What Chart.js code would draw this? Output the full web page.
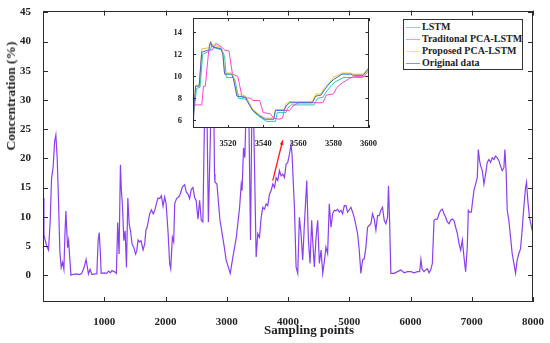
<!DOCTYPE html>
<html lang="en">
<head>
<meta charset="UTF-8">
<title>Concentration prediction</title>
<script src="https://cdn.jsdelivr.net/npm/chart.js"></script>
<style>
  body {
    margin: 0;
    background: #fff;
    font-family: 'Liberation Serif', 'Times New Roman', serif;
    color: #222;
  }
  .wrap {
    position: relative;
    width: 550px;
    height: 343px;
    overflow: hidden;
  }
  #mainChart { position: absolute; left: 0; top: 0; }
  #insetChart { position: absolute; left: 160px; top: 10px; }
  .ytitle {
    position: absolute;
    left: 10.5px;
    top: 96px;
    transform: translate(-50%, -50%) rotate(-90deg);
    font-weight: bold;
    font-size: 13.5px;
    white-space: nowrap;
  }
  .xtitle {
    position: absolute;
    left: 309px;
    top: 330px;
    transform: translate(-50%, -50%);
    font-weight: bold;
    font-size: 13px;
    white-space: nowrap;
  }
  .legend {
    position: absolute;
    left: 403px;
    top: 19px;
    width: 118px;
    height: 48px;
    border: 1px solid #333;
    background: #fff;
    padding-top: 1px;
  }
  .legend div {
    height: 12px;
    line-height: 12px;
    font-size: 10px;
    font-weight: bold;
    white-space: nowrap;
  }
  .legend span {
    display: inline-block;
    width: 14px;
    height: 0;
    border-top: 1px solid;
    vertical-align: middle;
    margin: 0 2px 0 2px;
  }
</style>
</head>
<body>
<div class="wrap">
  <canvas id="mainChart" width="550" height="343"></canvas>
  <canvas id="insetChart" width="220" height="140"></canvas>
  <div class="ytitle">Concentration (%)</div>
  <div class="xtitle">Sampling points</div>
  <div class="legend">
    <div><span style="color:#7fdcc6"></span>LSTM</div>
    <div><span style="color:#ff8fdc"></span>Traditonal PCA-LSTM</div>
    <div><span style="color:#ffe07a"></span>Proposed PCA-LSTM</div>
    <div><span style="color:#8c8cff"></span>Original data</div>
  </div>
</div>

<script>
// main plot: sampling point and concentration
const mainX = [0,15,30,60,90,115,140,165,190,210,232,255,275,297,320,341,358,374,388,401,418,440,456,480,550,600,632,670,703,725,742,769,800,850,879,900,918,935,950,1000,1040,1071,1100,1126,1160,1181,1198,1220,1242,1264,1280,1297,1320,1341,1363,1385,1407,1429,1455,1484,1511,1530,1552,1575,1600,1634,1661,1680,1700,1742,1770,1800,1824,1850,1878,1905,1933,1960,1987,2010,2041,2068,2085,2112,2134,2150,2180,2204,2231,2258,2275,2313,2340,2367,2394,2421,2448,2476,2500,2530,2557,2584,2610,2660,2700,2775,2800,2808,2840,2862,2889,2916,2960,2990,3057,3100,3154,3209,3236,3250,3274,3295,3345,3388,3420,3480,3507,3535,3562,3589,3616,3643,3670,3698,3725,3752,3780,3806,3833,3860,3888,3915,3942,3969,3996,4023,4050,4066,4105,4132,4159,4186,4213,4240,4268,4306,4333,4360,4387,4403,4430,4458,4485,4512,4540,4567,4593,4620,4647,4674,4702,4729,4756,4783,4810,4837,4864,4891,4919,4946,4973,5000,5027,5055,5082,5109,5136,5163,5190,5217,5245,5272,5299,5326,5353,5380,5408,5435,5462,5489,5516,5543,5571,5598,5625,5641,5660,5679,5733,5788,5842,5896,5950,6005,6059,6113,6150,6170,6190,6221,6248,6276,6303,6330,6357,6384,6411,6439,6466,6493,6520,6547,6574,6601,6629,6656,6683,6710,6737,6765,6792,6819,6846,6873,6900,6927,6944,6966,6993,7009,7036,7063,7090,7107,7128,7145,7172,7199,7226,7253,7280,7307,7335,7362,7389,7416,7443,7470,7498,7525,7541,7563,7579,7606,7633,7660,7688,7715,7742,7769,7796,7823,7850,7878,7894,7915,7942,7964,7986,8000];
const mainY = [13.2,7.0,6.2,5.0,4.3,8.7,16.6,18.4,22.9,24.0,20.0,12.1,4.1,1.3,2.2,1.0,7.0,11.0,7.6,4.7,5.9,2.4,0.0,0.1,0.2,0.1,0.3,1.3,2.7,1.3,0.2,1.0,0.1,0.2,0.2,5.9,7.3,4.1,0.3,0.4,0.3,0.7,0.4,0.8,0.6,0.5,0.3,9.0,3.6,18.9,14.4,12.1,5.9,7.6,1.3,13.2,8.7,7.6,5.3,4.7,3.6,4.1,6.0,5.7,5.9,4.3,5.4,7.7,8.2,10.5,11.2,10.5,11.0,12.2,13.2,13.1,13.6,11.8,13.4,12.2,7.5,2.0,1.1,6.5,5.7,12.2,13.1,13.3,13.6,14.5,15.1,15.5,14.2,13.9,13.1,14.7,15.0,13.3,12.8,9.6,12.8,9.4,9.1,42.0,9.1,43.0,17.3,15.9,15.6,12.8,9.4,7.7,4.8,2.6,0.3,3.1,6.3,11.5,15.5,14.5,21.8,20.1,40.0,6.0,38.0,3.1,7.1,6.5,9.9,11.6,11.3,12.2,11.9,13.9,14.5,15.6,15.0,16.7,16.2,17.9,17.0,17.3,16.7,19.0,19.3,20.7,22.4,20.7,11.6,1.4,0.3,9.9,7.1,2.6,8.8,16.2,6.0,2.0,9.4,6.0,1.4,6.5,9.4,2.0,4.3,0.3,2.3,4.8,3.7,12.2,8.2,10.5,11.1,11.0,11.3,10.8,11.1,10.5,11.9,11.9,10.8,11.2,11.6,10.8,9.9,8.5,7.1,4.3,0.3,2.6,2.8,4.8,8.2,8.5,8.8,10.5,9.6,7.7,10.2,10.2,11.1,11.6,9.4,8.8,9.9,15.3,8.8,0.3,0.3,0.6,0.9,0.4,0.6,0.6,0.4,0.6,0.6,2.7,1.0,0.6,0.9,1.1,0.4,0.9,2.0,9.4,9.6,9.6,10.5,11.1,11.3,10.5,9.9,9.1,8.8,9.4,9.6,9.4,8.2,7.1,5.4,4.3,6.0,3.1,0.6,4.8,11.1,10.8,10.8,12.2,14.5,15.6,16.7,21.5,19.6,18.7,17.9,15.6,17.3,19.3,19.8,19.3,20.1,19.8,20.4,20.1,19.6,18.7,17.9,18.4,21.5,17.3,11.1,9.4,6.5,3.7,2.0,0.3,2.6,3.7,4.5,7.7,11.6,15.0,15.9,12.8,9.9,8.8,7.7,7.6];
const mainXTicks = [1000,2000,3000,4000,5000,6000,7000,8000];
const mainYTicks = [0,5,10,15,20,25,30,35,40,45];

// zoomed window 3500-3600
const origX = [3500,3501.5,3503.5,3505,3509,3510,3511,3516,3517,3518,3522,3523,3525,3530,3531,3534,3538,3541,3546,3547,3552,3553,3555,3568,3570,3573,3575,3578,3580,3585,3590,3591,3597,3600];
const origY = [6.0,9.1,9.1,12.2,12.4,13.1,12.7,12.5,12.0,10.2,10.2,9.8,8.2,8.1,7.7,6.9,6.4,6.1,6.1,6.9,6.9,7.3,7.6,7.6,8.2,8.3,8.8,9.4,9.7,10.2,10.2,10.1,10.1,10.7];
const propX = [3500,3501.5,3503.5,3505,3509,3510,3511,3516,3517,3518,3522,3523,3525,3530,3531,3534,3538,3541,3546,3547,3552,3553,3555,3568,3570,3573,3575,3578,3580,3585,3590,3591,3597,3600];
const propY = [6.2,9.2,9.2,12.5,12.6,13.2,12.9,12.6,12.2,10.3,10.3,10.0,8.4,8.2,7.9,7.0,6.5,6.2,6.2,7.0,7.0,7.5,7.7,7.7,8.4,8.4,9.0,9.5,9.9,10.3,10.3,10.2,10.2,10.8];
const lstmX = [3500,3502,3504,3505.5,3509.5,3511,3512,3516.5,3518,3519,3523,3524,3526,3531,3532,3535,3539,3542,3547,3548,3553,3554,3556,3569,3571,3574,3576,3579,3581,3586,3591,3592,3597,3600];
const lstmY = [5.9,8.9,9.0,12.0,12.3,12.9,12.6,12.4,11.8,9.9,9.9,9.6,8.0,7.9,7.5,6.7,6.2,5.9,5.9,6.7,6.7,7.1,7.4,7.4,8.0,8.1,8.6,9.2,9.5,9.9,9.9,9.9,9.9,10.5];
const tradX = [3500,3500.4,3505,3506,3507,3509,3511,3513,3516,3518,3520.5,3522.5,3525.5,3528,3533,3534,3538,3540,3544,3546,3549,3551,3552,3555,3557,3560,3574,3576,3580,3582,3585,3589,3592,3600];
const tradY = [6.0,7.4,7.4,9.1,9.1,12.4,12.4,13.0,12.7,12.4,12.3,10.2,10.0,8.1,8.0,7.8,7.8,6.7,6.6,6.2,6.1,6.2,6.9,6.9,7.3,7.6,7.6,8.3,8.4,9.0,9.4,9.8,10.0,10.0];
const insetXTicks = [3520,3540,3560,3580,3600];
const insetYTicks = [6,8,10,12,14];

// red arrow pointing at the zoomed window
const arrowFrom = [3751, 16.2];
const arrowTo = [3914, 23.1];

const toPoints = (xs, ys) => xs.map((x, i) => ({ x: x, y: ys[i] }));
const serif = "'Liberation Serif', 'Times New Roman', serif";

// matlab-like box with ticks pointing inwards
const boxPlugin = {
  id: 'box',
  beforeDatasetsDraw(chart, args, opts) {
    if (!opts.fill) return;
    const a = chart.chartArea;
    chart.ctx.save();
    chart.ctx.fillStyle = '#fff';
    chart.ctx.fillRect(a.left, a.top, a.width, a.height);
    chart.ctx.restore();
  },
  afterDatasetsDraw(chart, args, opts) {
    const { ctx, chartArea: a, scales } = chart;
    const t = opts.tick;
    ctx.save();
    ctx.strokeStyle = '#2b2b2b';
    ctx.lineWidth = 1;
    ctx.beginPath();
    scales.x.ticks.forEach(k => {
      const px = Math.round(scales.x.getPixelForValue(k.value)) + 0.5;
      ctx.moveTo(px, a.bottom); ctx.lineTo(px, a.bottom - t);
      ctx.moveTo(px, a.top); ctx.lineTo(px, a.top + t);
    });
    scales.y.ticks.forEach(k => {
      const py = Math.round(scales.y.getPixelForValue(k.value)) + 0.5;
      ctx.moveTo(a.left, py); ctx.lineTo(a.left + t, py);
      ctx.moveTo(a.right, py); ctx.lineTo(a.right - t, py);
    });
    ctx.stroke();
    ctx.strokeRect(Math.round(a.left) + 0.5, Math.round(a.top) + 0.5, Math.round(a.width) - 1, Math.round(a.height) - 1);
    ctx.restore();
  }
};

const arrowPlugin = {
  id: 'arrow',
  afterDatasetsDraw(chart) {
    const { ctx, scales: { x, y } } = chart;
    const x0 = x.getPixelForValue(arrowFrom[0]), y0 = y.getPixelForValue(arrowFrom[1]);
    const x1 = x.getPixelForValue(arrowTo[0]), y1 = y.getPixelForValue(arrowTo[1]);
    const ang = Math.atan2(y1 - y0, x1 - x0);
    ctx.save();
    ctx.strokeStyle = '#ff1a1a';
    ctx.fillStyle = '#ff1a1a';
    ctx.lineWidth = 1.3;
    ctx.beginPath();
    ctx.moveTo(x0, y0);
    ctx.lineTo(x1, y1);
    ctx.stroke();
    ctx.beginPath();
    ctx.moveTo(x1, y1);
    ctx.lineTo(x1 - 5 * Math.cos(ang - 0.4), y1 - 5 * Math.sin(ang - 0.4));
    ctx.lineTo(x1 - 5 * Math.cos(ang + 0.4), y1 - 5 * Math.sin(ang + 0.4));
    ctx.closePath();
    ctx.fill();
    ctx.restore();
  }
};

function axis(min, max, ticks, size, fontSize, pad, isX) {
  return {
    type: 'linear',
    min: min,
    max: max,
    grid: { display: false },
    border: { display: false },
    afterBuildTicks: s => { s.ticks = ticks.map(v => ({ value: v })); },
    afterFit: s => { if (isX) s.height = size; else s.width = size; },
    ticks: {
      color: '#222',
      padding: pad,
      maxRotation: 0,
      autoSkip: false,
      callback: v => String(v),
      font: { family: serif, size: fontSize, weight: 'bold' }
    }
  };
}

new Chart(document.getElementById('mainChart'), {
  type: 'line',
  data: {
    datasets: [{
      label: 'Original data',
      data: toPoints(mainX, mainY),
      borderColor: '#8a3ff0',
      borderWidth: 1.2,
      pointRadius: 0,
      tension: 0
    }]
  },
  options: {
    responsive: false,
    animation: false,
    devicePixelRatio: 1,
    layout: { padding: { left: 0, top: 8, right: 16, bottom: 0 } },
    plugins: { legend: { display: false }, tooltip: { enabled: false }, box: { tick: 5 } },
    scales: {
      x: axis(0, 8000, mainXTicks, 41, 11, 6, true),
      y: axis(-4.6, 45.3, mainYTicks, 43, 11, 4, false)
    }
  },
  plugins: [boxPlugin, arrowPlugin]
});

new Chart(document.getElementById('insetChart'), {
  type: 'line',
  data: {
    datasets: [
      { label: 'Original data', data: toPoints(origX, origY), borderColor: '#4363d0', order: 0 },
      { label: 'Proposed PCA-LSTM', data: toPoints(propX, propY), borderColor: '#f2c230', order: 1 },
      { label: 'Traditonal PCA-LSTM', data: toPoints(tradX, tradY), borderColor: '#ff45d6', order: 2 },
      { label: 'LSTM', data: toPoints(lstmX, lstmY), borderColor: '#33c4b0', order: 3 }
    ]
  },
  options: {
    responsive: false,
    animation: false,
    devicePixelRatio: 1,
    datasets: { line: { borderWidth: 1, pointRadius: 0, tension: 0 } },
    layout: { padding: { left: 0, top: 4, right: 5, bottom: 0 } },
    plugins: { legend: { display: false }, tooltip: { enabled: false }, box: { tick: 3, fill: true } },
    scales: {
      x: axis(3500, 3600, insetXTicks, 22, 8.5, 3, true),
      y: axis(5.3, 15.3, insetYTicks, 33, 8.5, 3, false)
    }
  },
  plugins: [boxPlugin]
});
</script>
</body>
</html>
